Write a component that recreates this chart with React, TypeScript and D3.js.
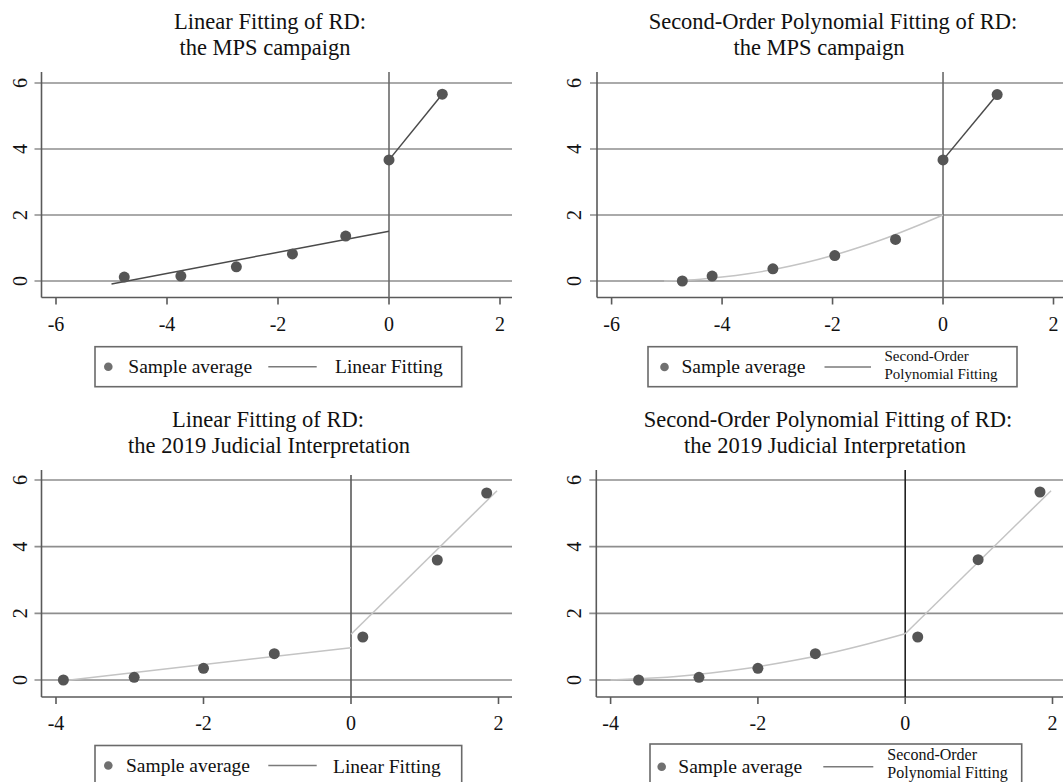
import React from "react";
import * as d3 from "d3";

// ---------- DATA ----------
// Panel A: Linear fitting, MPS campaign
const mpsLinX = [-4.77, -3.75, -2.75, -1.74, -0.78, 0.0, 0.96];
const mpsLinY = [0.12, 0.15, 0.43, 0.82, 1.36, 3.67, 5.66];
const mpsLinFitLeft: [number, number][] = [[-5.0, -0.09], [0, 1.51]];
const mpsLinFitRight: [number, number][] = [[0, 3.67], [0.96, 5.66]];

// Panel B: Second-order polynomial fitting, MPS campaign
const mpsQuadX = [-4.72, -4.18, -3.08, -1.96, -0.86, 0.0, 0.98];
const mpsQuadY = [0.0, 0.15, 0.37, 0.77, 1.26, 3.67, 5.65];
const mpsQuadFitLeft: [number, number][] = [
  [-5.05, 0.0], [-4.5, 0.04], [-4, 0.12], [-3.5, 0.23], [-3, 0.37], [-2.5, 0.55],
  [-2, 0.77], [-1.5, 1.03], [-1, 1.32], [-0.5, 1.65], [0, 2.0],
];
const mpsQuadFitRight: [number, number][] = [[0, 3.67], [0.98, 5.65]];

// Panel C: Linear fitting, 2019 Judicial Interpretation
const jiLinX = [-3.9, -2.94, -2.0, -1.04, 0.16, 1.17, 1.84];
const jiLinY = [0.0, 0.08, 0.35, 0.79, 1.29, 3.6, 5.61];
const jiLinFitLeft: [number, number][] = [[-3.9, -0.02], [0, 0.97]];
const jiLinFitRight: [number, number][] = [[0, 1.37], [1.98, 5.68]];

// Panel D: Second-order polynomial fitting, 2019 Judicial Interpretation
const jiQuadX = [-3.62, -2.8, -2.0, -1.22, 0.17, 0.99, 1.83];
const jiQuadY = [0.0, 0.08, 0.35, 0.79, 1.29, 3.61, 5.64];
const jiQuadFitLeft: [number, number][] = [
  [-4, 0.0], [-3.5, 0.05], [-3, 0.13], [-2.5, 0.25], [-2, 0.4], [-1.5, 0.59],
  [-1, 0.82], [-0.5, 1.09], [0, 1.39],
];
const jiQuadFitRight: [number, number][] = [[0, 1.39], [1.98, 5.68]];

const yTicks = [0, 2, 4, 6];
const xTicksMps = [-6, -4, -2, 0, 2];
const xTicksJi = [-4, -2, 0, 2];

const titleMpsLin = ["Linear Fitting of RD:", "the MPS campaign"];
const titleMpsQuad = ["Second-Order Polynomial Fitting of RD:", "the MPS campaign"];
const titleJiLin = ["Linear Fitting of RD:", "the 2019 Judicial Interpretation"];
const titleJiQuad = ["Second-Order Polynomial Fitting of RD:", "the 2019 Judicial Interpretation"];

const legendPoint = "Sample average";
const legendLinear = ["Linear Fitting"];
const legendQuad = ["Second-Order", "Polynomial Fitting"];

// ---------- STYLE ----------
const FONT = "'Liberation Serif', 'Times New Roman', serif";
const GRID = "#8e8e8e";
const AXIS = "#5a5a5a";
const DOT = "#555555";
const DARK_FIT = "#4a4a4a";
const LIGHT_FIT = "#c4c4c4";

type Panel = {
  xs: number[];
  ys: number[];
  fitL: [number, number][];
  fitR: [number, number][];
  colL: string;
  colR: string;
  curved: boolean;
  xDomain: [number, number];
  xRange: [number, number];
  yRange: [number, number];
  xTicks: number[];
  left: number;
  right: number;
  top: number;
  axisY: number;
  vTop: number;
  vColor: string;
  title: string[];
  titleCx: [number, number];
  titleBase: [number, number];
  yLabelX: number;
  xLabelBase: number;
  legend: {
    x0: number; x1: number; y0: number; y1: number;
    mx: number; my: number; t1x: number; base: number;
    lx0: number; lx1: number; t2x: number; lines: string[];
    smallSize: number; smallBases: number[];
  };
};

const panels: Panel[] = [
  {
    xs: mpsLinX, ys: mpsLinY, fitL: mpsLinFitLeft, fitR: mpsLinFitRight,
    colL: DARK_FIT, colR: DARK_FIT, curved: false,
    xDomain: [-6, 2], xRange: [56, 500], yRange: [281, 83], xTicks: xTicksMps,
    left: 41.5, right: 512, top: 72, axisY: 297.5, vTop: 72, vColor: "#6a6a6a",
    title: titleMpsLin, titleCx: [270, 265], titleBase: [28.5, 55],
    yLabelX: 26.5, xLabelBase: 331,
    legend: { x0: 95, x1: 461.7, y0: 346.7, y1: 386.7, mx: 108.3, my: 366.7, t1x: 128.3, base: 372.5,
      lx0: 268.3, lx1: 316.7, t2x: 335, lines: legendLinear, smallSize: 19.5, smallBases: [372.5] },
  },
  {
    xs: mpsQuadX, ys: mpsQuadY, fitL: mpsQuadFitLeft, fitR: mpsQuadFitRight,
    colL: LIGHT_FIT, colR: DARK_FIT, curved: true,
    xDomain: [-6, 2], xRange: [611.6, 1053.5], yRange: [281, 83], xTicks: xTicksMps,
    left: 597, right: 1075, top: 72, axisY: 297.5, vTop: 72, vColor: "#6a6a6a",
    title: titleMpsQuad, titleCx: [833, 819], titleBase: [28.5, 55],
    yLabelX: 581, xLabelBase: 331,
    legend: { x0: 648, x1: 1017, y0: 346.7, y1: 386.7, mx: 664.5, my: 367, t1x: 681.5, base: 372.5,
      lx0: 824.5, lx1: 871, t2x: 884.5, lines: legendQuad, smallSize: 15, smallBases: [361, 378.5] },
  },
  {
    xs: jiLinX, ys: jiLinY, fitL: jiLinFitLeft, fitR: jiLinFitRight,
    colL: LIGHT_FIT, colR: LIGHT_FIT, curved: false,
    xDomain: [-4, 2], xRange: [56, 498.5], yRange: [680, 480], xTicks: xTicksJi,
    left: 41.5, right: 512, top: 470, axisY: 697, vTop: 475, vColor: "#5a5a5a",
    title: titleJiLin, titleCx: [268, 269], titleBase: [427.3, 452.7],
    yLabelX: 26.5, xLabelBase: 729.5,
    legend: { x0: 95, x1: 461.7, y0: 745.5, y1: 788, mx: 108.3, my: 765.5, t1x: 126, base: 771.5,
      lx0: 268.3, lx1: 316.7, t2x: 333, lines: legendLinear, smallSize: 19.5, smallBases: [772.5] },
  },
  {
    xs: jiQuadX, ys: jiQuadY, fitL: jiQuadFitLeft, fitR: jiQuadFitRight,
    colL: LIGHT_FIT, colR: LIGHT_FIT, curved: true,
    xDomain: [-4, 2], xRange: [610.6, 1052.5], yRange: [680, 480], xTicks: xTicksJi,
    left: 596.3, right: 1075, top: 470, axisY: 697, vTop: 470, vColor: "#222222",
    title: titleJiQuad, titleCx: [828, 825], titleBase: [427.3, 452.7],
    yLabelX: 581, xLabelBase: 729.5,
    legend: { x0: 650, x1: 1021.7, y0: 744, y1: 788, mx: 661.7, my: 766.7, t1x: 678.3, base: 772.5,
      lx0: 823.3, lx1: 873.3, t2x: 887.3, lines: legendQuad, smallSize: 16, smallBases: [759.5, 777.5] },
  },
];

function PanelView({ p }: { p: Panel }) {
  const x = d3.scaleLinear().domain(p.xDomain).range(p.xRange);
  const y = d3.scaleLinear().domain([0, 6]).range(p.yRange);
  const lineGen = d3
    .line<[number, number]>()
    .x((d) => x(d[0]))
    .y((d) => y(d[1]))
    .curve(p.curved ? d3.curveMonotoneX : d3.curveLinear);
  const straight = d3
    .line<[number, number]>()
    .x((d) => x(d[0]))
    .y((d) => y(d[1]));
  const L = p.legend;
  return (
    <g>
      {p.title.map((t, i) => (
        <text key={i} x={p.titleCx[i]} y={p.titleBase[i]} textAnchor="middle"
          fontFamily={FONT} fontSize={22.5} fill="#111">{t}</text>
      ))}
      {yTicks.map((v) => (
        <g key={v}>
          <line x1={p.left - 7} x2={p.right} y1={y(v)} y2={y(v)} stroke={GRID} strokeWidth={1.6} />
          <text transform={`translate(${p.yLabelX},${y(v)}) rotate(-90)`} textAnchor="middle"
            fontFamily={FONT} fontSize={20} fill="#111">{v}</text>
        </g>
      ))}
      <line x1={p.left} x2={p.left} y1={p.top} y2={p.axisY} stroke={AXIS} strokeWidth={1.6} />
      <line x1={p.left} x2={p.right} y1={p.axisY} y2={p.axisY} stroke={AXIS} strokeWidth={1.6} />
      {p.xTicks.map((v) => (
        <g key={v}>
          <line x1={x(v)} x2={x(v)} y1={p.axisY} y2={p.axisY + 7} stroke={AXIS} strokeWidth={1.6} />
          <text x={x(v)} y={p.xLabelBase} textAnchor="middle" fontFamily={FONT} fontSize={20} fill="#111">
            {v < 0 ? `-${Math.abs(v)}` : v}
          </text>
        </g>
      ))}
      <line x1={x(0)} x2={x(0)} y1={p.vTop} y2={p.axisY} stroke={p.vColor} strokeWidth={1.6} />
      <path d={lineGen(p.fitL) || ""} fill="none" stroke={p.colL} strokeWidth={1.5} />
      <path d={straight(p.fitR) || ""} fill="none" stroke={p.colR} strokeWidth={1.5} />
      {p.xs.map((xv, i) => (
        <circle key={i} cx={x(xv)} cy={y(p.ys[i])} r={5.5} fill={DOT} />
      ))}
      <rect x={L.x0} y={L.y0} width={L.x1 - L.x0} height={L.y1 - L.y0} fill="#fff" stroke="#6a6a6a" strokeWidth={1.6} />
      <circle cx={L.mx} cy={L.my} r={4.3} fill="#707070" />
      <text x={L.t1x} y={L.base} fontFamily={FONT} fontSize={19.5} fill="#111">{legendPoint}</text>
      <line x1={L.lx0} x2={L.lx1} y1={L.my} y2={L.my} stroke="#7a7a7a" strokeWidth={1.5} />
      {L.lines.map((t, i) => (
        <text key={i} x={L.t2x} y={L.smallBases[i]} fontFamily={FONT} fontSize={L.smallSize} fill="#111">{t}</text>
      ))}
    </g>
  );
}

export default function App() {
  return (
    <svg width={1063} height={782} viewBox="0 0 1063 782"
      style={{ position: "absolute", left: 0, top: 0, display: "block", background: "#fff" }}>
      <rect x={0} y={0} width={1063} height={782} fill="#fff" />
      {panels.map((p, i) => (
        <PanelView key={i} p={p} />
      ))}
    </svg>
  );
}
